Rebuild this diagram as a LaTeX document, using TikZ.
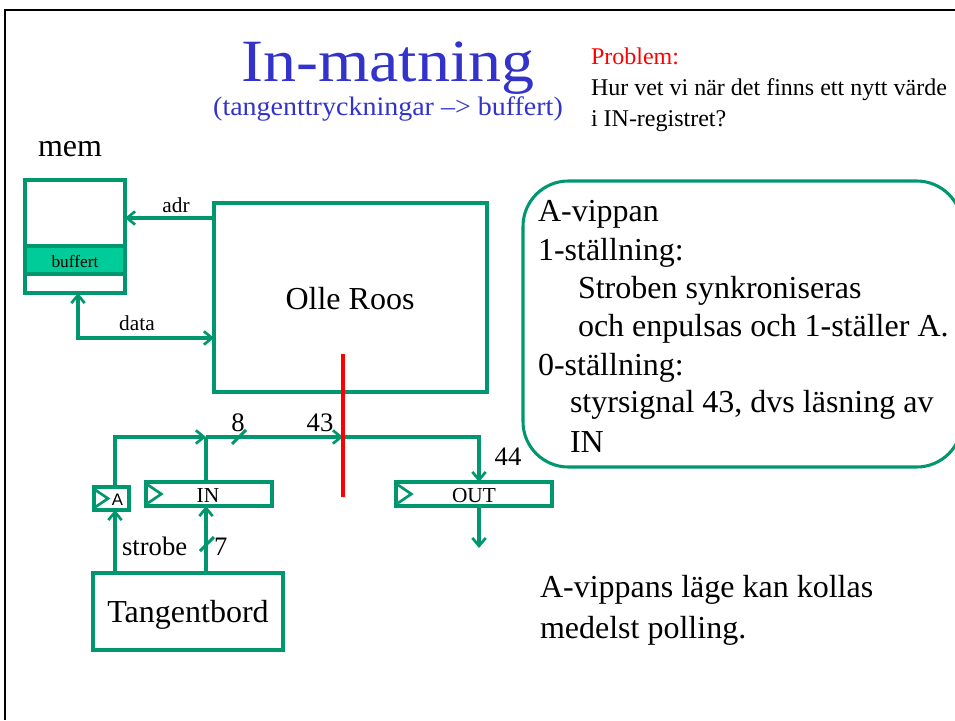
\documentclass[tikz,border=0pt]{standalone}
\usepackage{fontspec}
\setmainfont{Liberation Serif}
\newfontfamily\labelsans{Liberation Sans}
\usetikzlibrary{arrows.meta}
\definecolor{wire}{RGB}{0,150,110}
\definecolor{bufferfill}{RGB}{0,204,153}
\definecolor{titleblue}{RGB}{51,51,204}
\newcommand\fsz[1]{\fontsize{#1}{1.2\dimexpr#1pt\relax}\selectfont}
\begin{document}
\begin{tikzpicture}[x=0.75pt,y=-0.75pt,
  block/.style={draw=wire, line width=2.3pt, inner sep=0pt, outer sep=0pt, fill=white},
  wirepath/.style={draw=wire, line width=2.3pt},
  sig/.style={wirepath, -{Straight Barb[length=6pt,width=10pt,line width=2pt]}},
  bisig/.style={wirepath, {Straight Barb[length=6pt,width=10pt,line width=2pt]}-{Straight Barb[length=6pt,width=10pt,line width=2pt]}},
  txt/.style={inner sep=0pt, outer sep=0pt, anchor=base},
  txtw/.style={inner sep=0pt, outer sep=0pt, anchor=base west},
  clk/.style={draw=wire, line width=2pt, line join=miter}]
\useasboundingbox (0,0) rectangle (955,720);
\clip (0,0) rectangle (955,720);

% slide frame
\draw[line width=1.5pt] (4.5,720) |- (955,10);

% headings
\node[txt, text=titleblue] (title) at (388,82) {\scalebox{1.1}[1]{\fsz{45}In-matning}};
\node[txt, text=titleblue] (subtitle) at (388,116) {\scalebox{1.05}[1]{\fsz{20}(tangenttryckningar –> buffert)}};
\node[txtw, text=red] (probhead) at (591,65) {\fsz{18}Problem:};
\node[txtw] (prob1) at (591,96) {\fsz{18}Hur vet vi när det finns ett nytt värde};
\node[txtw] (prob2) at (591,127) {\fsz{18}i IN-registret?};
\node[txtw] (memlabel) at (38,157) {\fsz{24}mem};

% blocks
\node[block, minimum width=75pt, minimum height=84.75pt] (mem) at (75,236.5) {};
\node[block, fill=bufferfill, minimum width=75pt, minimum height=21pt] (buf) at (75,260) {};
\node[txt] at (75,267) {\fsz{13}buffert};
\node[block, minimum width=204.75pt, minimum height=141.75pt] (cpu) at (350.5,297.5) {};
\node[txt] at (350,309) {\fsz{24}Olle Roos};
\node[block, minimum width=142.5pt, minimum height=57.75pt] (kbd) at (188,611.5) {};
\node[txt] at (188,622) {\fsz{24}Tangentbord};
\node[block, minimum width=26.25pt, minimum height=17.25pt] (ffA) at (111.5,498.5) {};
\node[txt] at (117.5,505) {\labelsans\fsz{12.5}A};
\node[block, minimum width=94.5pt, minimum height=18pt] (inreg) at (209,494) {};
\node[txt] at (208,502) {\fsz{16}IN};
\node[block, minimum width=117pt, minimum height=18pt] (outreg) at (474,494) {};
\node[txt] at (474,502) {\fsz{16}OUT};

% clock inputs
\draw[clk] ([xshift=1pt,yshift=6.4pt]ffA.west) -- ([xshift=10.5pt]ffA.west) -- ([xshift=1pt,yshift=-6.4pt]ffA.west);
\draw[clk] ([xshift=1.5pt,yshift=6.8pt]inreg.west) -- ([xshift=11.5pt]inreg.west) -- ([xshift=1.5pt,yshift=-6.8pt]inreg.west);
\draw[clk] ([xshift=1.5pt,yshift=6.8pt]outreg.west) -- ([xshift=11.5pt]outreg.west) -- ([xshift=1.5pt,yshift=-6.8pt]outreg.west);

% routing coordinates
\coordinate (adry) at (0,218);
\coordinate (datax) at (78,0);
\coordinate (datay) at (0,338);
\coordinate (strobex) at (115,0);
\coordinate (junc) at (206,437);
\coordinate (rtop) at (343,354);
\coordinate (rbot) at (343,497);
\coordinate (outx) at (479,0);
\coordinate (outend) at (479,548);

% memory connections
\draw[sig] (cpu.west |- adry) -- (mem.east |- adry);
\node[txt] at (176,213) {\fsz{16}adr};
\draw[bisig] (mem.south -| datax) |- (cpu.west |- datay);
\node[txt] at (137,330) {\fsz{16}data};

% bus
\draw[sig] (ffA.north -| strobex) |- (junc);
\draw[wirepath] (inreg.north -| junc) -- (junc);
\draw[sig] (junc) -- (rtop |- junc);
\draw[sig] (rtop |- junc) -| (outreg.north -| outx);
\draw[sig] (outreg.south -| outx) -- (outend);
\draw[wirepath] (232,444) -- (246,430);
\node[txt] at (238,431) {\fsz{20}8};
\node[txt] at (320,431) {\fsz{20}43};
\node[txt] at (508,465) {\fsz{20}44};

% keyboard signals
\draw[sig] (kbd.north -| strobex) -- (ffA.south -| strobex);
\node[txtw] at (122,555) {\fsz{20}strobe};
\draw[sig] (kbd.north -| junc) -- (inreg.south -| junc);
\draw[wirepath] (200,551) -- (214,537);
\node[txtw] at (214,555) {\fsz{20}7};

% control signal 43
\draw[red, line width=2.3pt] (rtop) -- (rbot);

% explanation box
\node[draw=wire, line width=2.3pt, rounded corners=34pt, inner sep=0pt,
      minimum width=329.25pt, minimum height=214.5pt] (note) at (742.5,324) {};
\node[txtw] at (538,222) {\fsz{24}A-vippan};
\node[txtw] at (538,260) {\fsz{24}1-ställning:};
\node[txtw] at (578,298) {\fsz{24}Stroben synkroniseras};
\node[txtw] at (578,336) {\fsz{24}och enpulsas och 1-ställer A.};
\node[txtw] at (538,375) {\fsz{24}0-ställning:};
\node[txtw] at (570,412) {\fsz{24}styrsignal 43, dvs läsning av};
\node[txtw] at (570,452) {\fsz{24}IN};

% polling note
\node[txtw] at (540,597) {\fsz{24}A-vippans läge kan kollas};
\node[txtw] at (540,638) {\fsz{24}medelst polling.};
\end{tikzpicture}
\end{document}
